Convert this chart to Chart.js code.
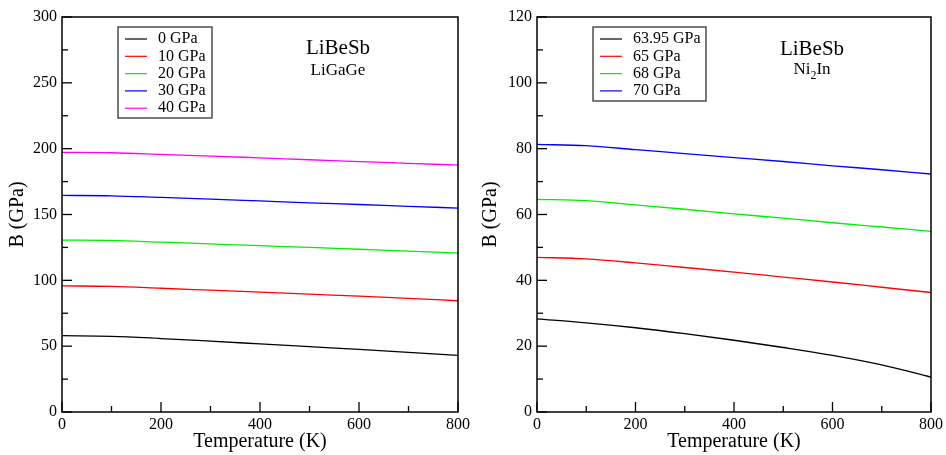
<!DOCTYPE html>
<html>
<head>
<meta charset="utf-8">
<script src="https://cdn.jsdelivr.net/npm/chart.js@4/dist/chart.umd.min.js"></script>
<style>
  html, body { margin: 0; padding: 0; background: #fff; }
  #wrap { position: relative; width: 946px; height: 455px; }
  canvas { position: absolute; top: 0; }
</style>
</head>
<body>
<div id="wrap">
  <canvas id="left" width="473" height="455" style="left:0"></canvas>
  <canvas id="right" width="473" height="455" style="left:473px"></canvas>
</div>
<script>
const temps = [0, 100, 200, 300, 400, 500, 600, 700, 800];

// LiBeSb in the LiGaGe structure
const ligageLabels = ['0 GPa', '10 GPa', '20 GPa', '30 GPa', '40 GPa'];
const ligage0  = [58.0, 57.5, 55.8, 53.8, 51.7, 49.6, 47.5, 45.3, 43.0];
const ligage10 = [95.8, 95.4, 94.0, 92.5, 91.0, 89.5, 88.0, 86.3, 84.5];
const ligage20 = [130.6, 130.3, 129.0, 127.7, 126.3, 125.0, 123.6, 122.2, 120.7];
const ligage30 = [164.5, 164.2, 163.0, 161.7, 160.3, 158.9, 157.6, 156.2, 154.9];
const ligage40 = [197.2, 196.9, 195.7, 194.4, 193.0, 191.6, 190.2, 188.9, 187.5];
const ligageColors = ['#000000', '#ff0000', '#00ee00', '#0000ff', '#ff00ff'];

// LiBeSb in the Ni2In structure
const ni2inLabels = ['63.95 GPa', '65 GPa', '68 GPa', '70 GPa'];
const ni2in6395 = [28.3, 27.1, 25.6, 23.8, 21.8, 19.6, 17.2, 14.3, 10.6];
const ni2in65   = [47.0, 46.5, 45.3, 43.9, 42.5, 41.0, 39.5, 37.9, 36.3];
const ni2in68   = [64.6, 64.2, 62.9, 61.6, 60.2, 58.9, 57.5, 56.2, 54.9];
const ni2in70   = [81.3, 80.9, 79.7, 78.5, 77.3, 76.1, 74.8, 73.6, 72.3];
const ni2inColors = ['#000000', '#ff0000', '#00ee00', '#0000ff'];

const serif = 'Liberation Serif';

// frame round the plot + inward tick marks (major / minor)
const framePlugin = {
  id: 'frame',
  afterDraw(chart, args, opts) {
    const ctx = chart.ctx;
    const a = chart.chartArea;
    ctx.save();
    ctx.strokeStyle = '#000';
    ctx.lineWidth = 1.5;
    ctx.strokeRect(a.left, a.top, a.right - a.left, a.bottom - a.top);
    ctx.lineWidth = 1.3;
    const xs = chart.scales.x, ys = chart.scales.y;
    xs.ticks.forEach(t => {
      const px = xs.getPixelForValue(t.value);
      const len = t.value % opts.xMajor === 0 ? 10 : 6;
      ctx.beginPath(); ctx.moveTo(px, a.bottom); ctx.lineTo(px, a.bottom - len); ctx.stroke();
    });
    ys.ticks.forEach(t => {
      const py = ys.getPixelForValue(t.value);
      const len = t.value % opts.yMajor === 0 ? 10 : 6;
      ctx.beginPath(); ctx.moveTo(a.left, py); ctx.lineTo(a.left + len, py); ctx.stroke();
    });
    ctx.restore();
  }
};

// boxed legend inside the plot, from the datasets
const boxLegend = {
  id: 'boxLegend',
  afterDraw(chart, args, opts) {
    const ctx = chart.ctx;
    const a = chart.chartArea;
    const x = a.left + opts.dx, y = a.top + opts.dy;
    ctx.save();
    ctx.fillStyle = '#fff';
    ctx.fillRect(x, y, opts.w, opts.h);
    ctx.strokeStyle = '#333';
    ctx.lineWidth = 1.3;
    ctx.strokeRect(x, y, opts.w, opts.h);
    ctx.font = '16px "' + serif + '"';
    ctx.textBaseline = 'middle';
    chart.data.datasets.forEach((ds, i) => {
      const ry = y + 12 + i * 17.3;
      ctx.strokeStyle = ds.borderColor;
      ctx.lineWidth = 1.2;
      ctx.beginPath(); ctx.moveTo(x + 7, ry); ctx.lineTo(x + 29, ry); ctx.stroke();
      ctx.fillStyle = '#000';
      ctx.fillText(ds.label, x + 40, ry);
    });
    ctx.restore();
  }
};

// compound / structure labels
const notePlugin = {
  id: 'note',
  afterDraw(chart, args, opts) {
    const ctx = chart.ctx;
    ctx.save();
    ctx.fillStyle = '#000';
    ctx.textBaseline = 'middle';
    ctx.textAlign = 'center';
    ctx.font = '21px "' + serif + '"';
    ctx.fillText(opts.title, opts.cx, opts.y1);
    ctx.font = '17px "' + serif + '"';
    if (opts.sub) {
      const parts = opts.sub;
      ctx.textAlign = 'left';
      const w0 = ctx.measureText(parts[0]).width;
      const w2 = ctx.measureText(parts[2]).width;
      ctx.font = '12px "' + serif + '"';
      const w1 = ctx.measureText(parts[1]).width;
      let x = opts.cx - (w0 + w1 + w2) / 2;
      ctx.font = '17px "' + serif + '"';
      ctx.fillText(parts[0], x, opts.y2);
      x += w0;
      ctx.font = '12px "' + serif + '"';
      ctx.fillText(parts[1], x, opts.y2 + 6);
      x += w1;
      ctx.font = '17px "' + serif + '"';
      ctx.fillText(parts[2], x, opts.y2);
    } else {
      ctx.fillText(opts.struct, opts.cx, opts.y2);
    }
    ctx.restore();
  }
};

function makeChart(id, labels, series, colors, yMax, yStep, yMajor, yWidth, padRight, legendBox, note) {
  const datasets = series.map((vals, i) => ({
    label: labels[i],
    data: temps.map((t, j) => ({ x: t, y: vals[j] })),
    borderColor: colors[i],
    borderWidth: 1.3,
    pointRadius: 0,
    fill: false,
    cubicInterpolationMode: 'monotone'
  }));
  return new Chart(document.getElementById(id).getContext('2d'), {
    type: 'line',
    data: { datasets },
    plugins: [framePlugin, boxLegend, notePlugin],
    options: {
      responsive: false,
      animation: false,
      layout: { padding: { top: 17, right: padRight, bottom: 0, left: 0 } },
      plugins: {
        legend: { display: false },
        tooltip: { enabled: false },
        frame: { xMajor: 200, yMajor: yMajor },
        boxLegend: legendBox,
        note: note
      },
      scales: {
        x: {
          type: 'linear',
          min: 0, max: 800,
          grid: { display: false, drawTicks: false },
          border: { display: false },
          ticks: {
            stepSize: 100,
            padding: 3,
            maxRotation: 0,
            autoSkip: false,
            color: '#000',
            font: { family: serif, size: 16 },
            callback: v => (v % 200 === 0 ? v : '')
          },
          title: {
            display: true,
            text: 'Temperature (K)',
            color: '#000',
            font: { family: serif, size: 20 },
            padding: { top: 0, bottom: 1 }
          },
          afterFit: s => { s.height = 43; }
        },
        y: {
          min: 0, max: yMax,
          grid: { display: false, drawTicks: false },
          border: { display: false },
          ticks: {
            stepSize: yStep,
            padding: 5,
            autoSkip: false,
            color: '#000',
            font: { family: serif, size: 16 },
            callback: v => (v % yMajor === 0 ? v : '')
          },
          title: {
            display: true,
            text: 'B (GPa)',
            color: '#000',
            font: { family: serif, size: 20 },
            padding: { top: 6, bottom: 0 }
          },
          afterFit: s => { s.width = yWidth; }
        }
      }
    }
  });
}

makeChart('left', ligageLabels, [ligage0, ligage10, ligage20, ligage30, ligage40], ligageColors,
  300, 25, 50, 62, 15,
  { dx: 56, dy: 10, w: 94, h: 91 },
  { title: 'LiBeSb', struct: 'LiGaGe', cx: 338, y1: 48, y2: 71 });

makeChart('right', ni2inLabels, [ni2in6395, ni2in65, ni2in68, ni2in70], ni2inColors,
  120, 10, 20, 64, 14,
  { dx: 56, dy: 10, w: 113, h: 74 },
  { title: 'LiBeSb', sub: ['Ni', '2', 'In'], cx: 339, y1: 49, y2: 70 });
</script>
</body>
</html>
